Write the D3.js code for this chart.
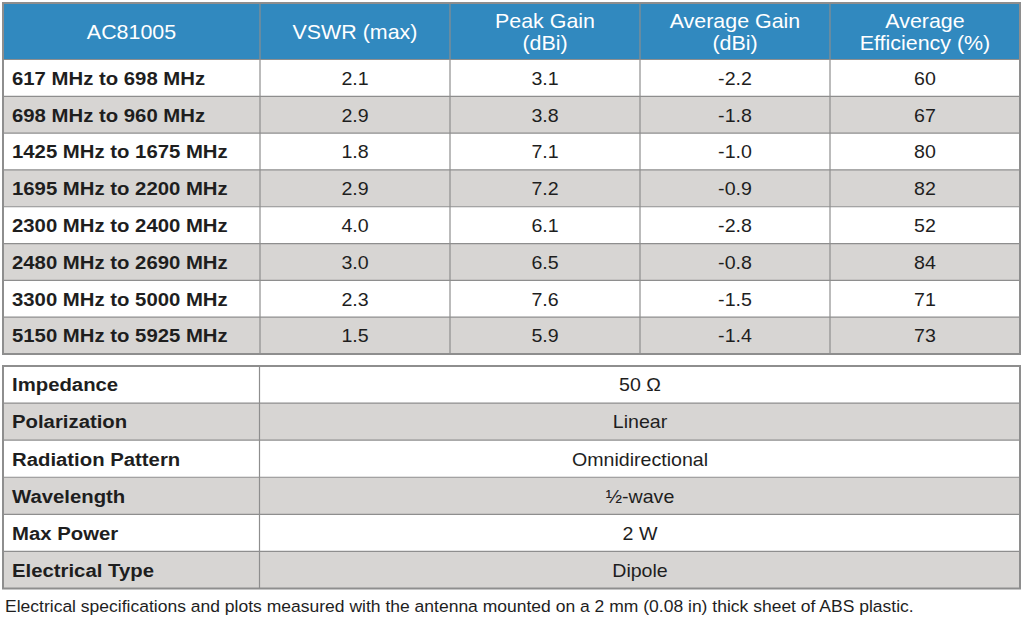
<!DOCTYPE html>
<html lang="en">
<head>
    <meta charset="utf-8">
    <title>AC81005 Specifications</title>
    <script src="https://d3js.org/d3.v7.min.js"></script>
    <style>
        body { margin: 0; background: #fff; }
        svg { display: block; font-family: "Liberation Sans", Arial, sans-serif; }
    </style>
</head>
<body>
    <svg id="chart" width="1024" height="617"></svg>
    <script>
        // Table data
        const headers = [["AC81005"], ["VSWR (max)"], ["Peak Gain", "(dBi)"], ["Average Gain", "(dBi)"], ["Average", "Efficiency (%)"]];
        const bands = ["617 MHz to 698 MHz", "698 MHz to 960 MHz", "1425 MHz to 1675 MHz", "1695 MHz to 2200 MHz",
                       "2300 MHz to 2400 MHz", "2480 MHz to 2690 MHz", "3300 MHz to 5000 MHz", "5150 MHz to 5925 MHz"];
        const vswr = ["2.1", "2.9", "1.8", "2.9", "4.0", "3.0", "2.3", "1.5"];
        const peakGain = ["3.1", "3.8", "7.1", "7.2", "6.1", "6.5", "7.6", "5.9"];
        const avgGain = ["-2.2", "-1.8", "-1.0", "-0.9", "-2.8", "-0.8", "-1.5", "-1.4"];
        const efficiency = ["60", "67", "80", "82", "52", "84", "71", "73"];

        const propNames = ["Impedance", "Polarization", "Radiation Pattern", "Wavelength", "Max Power", "Electrical Type"];
        const propValues = ["50 \u03A9", "Linear", "Omnidirectional", "\u00BD-wave", "2 W", "Dipole"];

        const footnote = "Electrical specifications and plots measured with the antenna mounted on a 2 mm (0.08 in) thick sheet of ABS plastic.";

        const blue = "#3189bf", gray = "#d7d5d3", line = "#8e8e8e", ink = "#1e1e1e";
        const colEdges = [3, 260, 450, 640, 830, 1020];
        const sxBold = 1.13, sxReg = 1.06;

        const svg = d3.select("#chart");

        // helper: text with slight horizontal stretch (source font is wider than Liberation Sans)
        function label(g, x, y, txt, opts) {
            g.append("text")
                .attr("transform", `translate(${x},${y}) scale(${opts.sx || 1},1)`)
                .attr("text-anchor", opts.anchor || "middle")
                .attr("font-size", opts.size || 18.5)
                .attr("font-weight", opts.weight || "normal")
                .attr("fill", opts.fill || ink)
                .text(txt);
        }

        // ---- Table 1 ----
        const y1 = d3.scaleBand().domain(d3.range(bands.length)).range([59.5, 354]);
        const t1 = svg.append("g");

        t1.append("rect").attr("x", colEdges[0]).attr("y", 3)
            .attr("width", colEdges[5] - colEdges[0]).attr("height", 59.5 - 3).attr("fill", blue);

        bands.forEach((b, i) => {
            t1.append("rect").attr("x", colEdges[0]).attr("y", y1(i))
                .attr("width", colEdges[5] - colEdges[0]).attr("height", y1.bandwidth())
                .attr("fill", i % 2 ? gray : "#fff");
        });

        // grid
        bands.forEach((b, i) => {
            t1.append("line").attr("x1", colEdges[0]).attr("x2", colEdges[5])
                .attr("y1", y1(i)).attr("y2", y1(i)).attr("stroke", line).attr("stroke-width", 1.2);
        });
        colEdges.slice(1, 5).forEach(x => {
            t1.append("line").attr("x1", x).attr("x2", x).attr("y1", 3).attr("y2", 354)
                .attr("stroke", line).attr("stroke-width", 1.2);
        });
        t1.append("rect").attr("x", colEdges[0]).attr("y", 3)
            .attr("width", colEdges[5] - colEdges[0]).attr("height", 354 - 3)
            .attr("fill", "none").attr("stroke", line).attr("stroke-width", 2);

        // header text
        headers.forEach((h, j) => {
            const cx = (colEdges[j] + colEdges[j + 1]) / 2;
            if (h.length === 1) {
                label(t1, cx, 39, h[0], { size: 21, fill: "#fff", sx: 1.02 });
            } else {
                label(t1, cx, 27.5, h[0], { size: 21, fill: "#fff", sx: 1.02 });
                label(t1, cx, 49.5, h[1], { size: 21, fill: "#fff", sx: 1.02 });
            }
        });

        const cols = [vswr, peakGain, avgGain, efficiency];
        bands.forEach((b, i) => {
            const base = y1(i) + y1.bandwidth() / 2 + 6.8;
            label(t1, 12, base, b, { anchor: "start", weight: "bold", size: 18, sx: sxBold });
            cols.forEach((c, j) => {
                label(t1, (colEdges[j + 1] + colEdges[j + 2]) / 2, base, c[i], { sx: sxReg });
            });
        });

        // ---- Table 2 ----
        const y2 = d3.scaleBand().domain(d3.range(propNames.length)).range([366, 588.5]);
        const t2 = svg.append("g");

        propNames.forEach((p, i) => {
            t2.append("rect").attr("x", colEdges[0]).attr("y", y2(i))
                .attr("width", colEdges[5] - colEdges[0]).attr("height", y2.bandwidth())
                .attr("fill", i % 2 ? gray : "#fff");
            if (i > 0) {
                t2.append("line").attr("x1", colEdges[0]).attr("x2", colEdges[5])
                    .attr("y1", y2(i)).attr("y2", y2(i)).attr("stroke", line).attr("stroke-width", 1.2);
            }
        });
        t2.append("line").attr("x1", 259.5).attr("x2", 259.5).attr("y1", 366).attr("y2", 588.5)
            .attr("stroke", line).attr("stroke-width", 1.2);
        t2.append("rect").attr("x", colEdges[0]).attr("y", 366)
            .attr("width", colEdges[5] - colEdges[0]).attr("height", 588.5 - 366)
            .attr("fill", "none").attr("stroke", line).attr("stroke-width", 2);

        propNames.forEach((p, i) => {
            const base = y2(i) + y2.bandwidth() / 2 + 6.8;
            label(t2, 12, base, p, { anchor: "start", weight: "bold", size: 18, sx: sxBold });
            label(t2, (colEdges[1] + colEdges[5]) / 2, base, propValues[i], { sx: sxReg });
        });

        // footnote
        label(svg, 5, 611.5, footnote, { anchor: "start", size: 17, sx: 1.03 });
    </script>
</body>
</html>
